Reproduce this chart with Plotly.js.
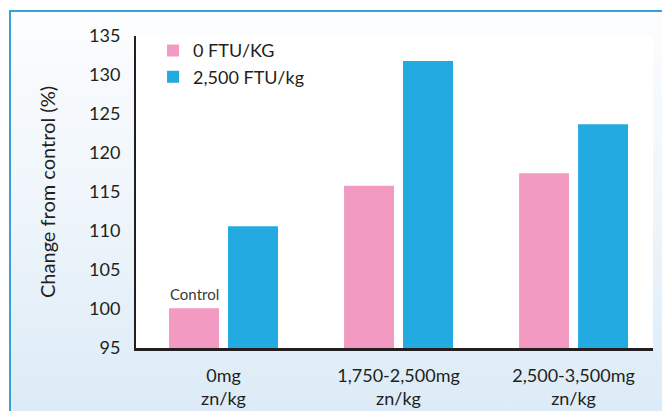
<!DOCTYPE html>
<html>
<head>
<meta charset="utf-8">
<script src="https://cdn.plot.ly/plotly-3.0.1.min.js"></script>
<style>
  html, body { margin: 0; padding: 0; background: #ffffff; }
  #wrap { position: relative; width: 662px; height: 411px; overflow: hidden; }
  #frame {
    position: absolute; left: 9px; top: 10px; right: 0; bottom: 0;
    border-left: 2px solid #3a9fd8; border-top: 2px solid #3a9fd8;
    background: linear-gradient(to bottom, #fcfdfe 0%, #f0f6fb 45%, #dcebf7 100%);
  }
  #chart { position: absolute; left: 0; top: 0; width: 662px; height: 411px; }
</style>
</head>
<body>
<div id="wrap">
  <div id="frame"></div>
  <div id="chart"></div>
</div>
<script>
const categories = ["0mg<br>zn/kg", "1,750-2,500mg<br>zn/kg", "2,500-3,500mg<br>zn/kg"];
const seriesNames = ["0 FTU/KG", "2,500 FTU/kg"];
const values0FTU = [100.1, 115.8, 117.4];
const values2500FTU = [110.6, 131.8, 123.7];
const yTicks = [95, 100, 105, 110, 115, 120, 125, 130, 135];
const controlLabel = "Control";

const FONT = "Lato, 'Open Sans', sans-serif";
const INK = "#231f20";

const traces = [
  { type: "bar", name: seriesNames[0], x: categories, y: values0FTU,
    marker: { color: "#f39ac2" }, hoverinfo: "x+y" },
  { type: "bar", name: seriesNames[1], x: categories, y: values2500FTU,
    marker: { color: "#23abe1" }, hoverinfo: "x+y" }
];

const layout = {
  width: 662, height: 411,
  margin: { l: 136, r: 9, t: 36, b: 63 },
  paper_bgcolor: "rgba(0,0,0,0)",
  plot_bgcolor: "#ffffff",
  barmode: "group",
  bargap: 0.326,
  bargroupgap: 0.153,
  font: { family: FONT, color: INK, size: 18 },
  showlegend: true,
  legend: {
    x: 0.033, y: 1.012, xanchor: "left", yanchor: "top",
    bgcolor: "rgba(0,0,0,0)", font: { size: 18, color: INK },
    tracegroupgap: 0, itemclick: false
  },
  xaxis: {
    type: "category",
    range: [-0.5, 2.454],
    showline: true, linecolor: INK, linewidth: 3,
    showgrid: false, zeroline: false, ticks: "",
    tickfont: { size: 18, color: INK },
    ticklabelstandoff: 9
  },
  yaxis: {
    range: [95, 135],
    tickvals: yTicks,
    showline: true, linecolor: INK, linewidth: 2,
    showgrid: false, zeroline: false, ticks: "",
    tickfont: { size: 18, color: INK },
    ticklabelstandoff: 10,
    title: { text: "Change from control (%)", font: { size: 20, color: INK }, standoff: 28 }
  },
  annotations: [
    { x: categories[0], y: values0FTU[0], xref: "x", yref: "y",
      text: controlLabel, showarrow: false, yanchor: "bottom", xshift: -29, yshift: 3,
      font: { size: 15, color: "#3a3a3a", family: FONT } }
  ]
};

Plotly.newPlot("chart", traces, layout, { displayModeBar: false, staticPlot: true });
</script>
</body>
</html>
